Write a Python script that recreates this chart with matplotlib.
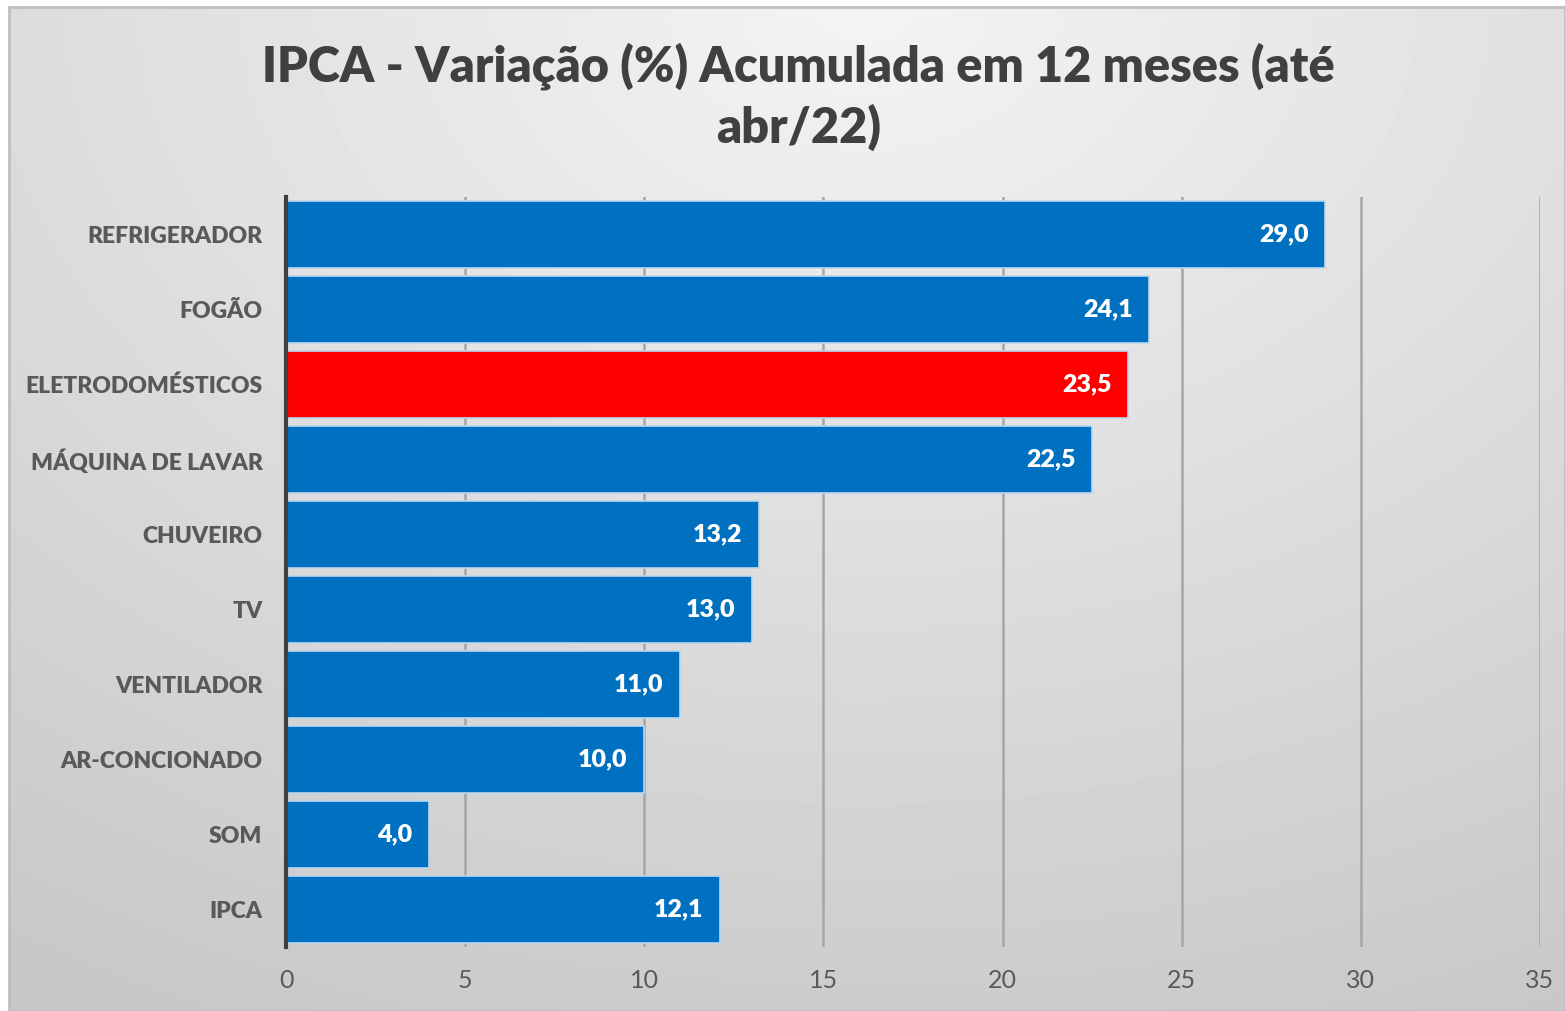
import matplotlib.pyplot as plt
import numpy as np

categories = ['REFRIGERADOR', 'FOGÃO', 'ELETRODOMÉSTICOS', 'MÁQUINA DE LAVAR', 'CHUVEIRO',
              'TV', 'VENTILADOR', 'AR-CONCIONADO', 'SOM', 'IPCA']
values = [29.0, 24.1, 23.5, 22.5, 13.2, 13.0, 11.0, 10.0, 4.0, 12.1]
highlight = 'ELETRODOMÉSTICOS'
xticks = [0, 5, 10, 15, 20, 25, 30, 35]
title = 'IPCA - Variação (%) Acumulada em 12 meses (até\nabr/22)'

plt.rcParams['font.family'] = ['Lato', 'DejaVu Sans']

W, H = 1565, 1011
fig = plt.figure(figsize=(W / 100, H / 100), dpi=100)
fig.patch.set_facecolor('white')

# gradient background panel
bg = fig.add_axes([9 / W, 0, 1 - 9 / W, 1 - 7 / H])
yy, xx = np.mgrid[0:1:300j, 0:1:470j]
d = np.sqrt(((xx - 0.55) / 1.0) ** 2 + ((yy - 0.0) / 1.1) ** 2)
shade = 0.955 - 0.17 * np.clip(d, 0, 1)
bg.imshow(shade, cmap='gray', vmin=0, vmax=1, aspect='auto', extent=[0, 1, 0, 1],
          origin='upper', interpolation='bilinear')
bg.set_xlim(0, 1)
bg.set_ylim(0, 1)
bg.set_xticks([])
bg.set_yticks([])
for s in bg.spines.values():
    s.set_color('#bfbfbf')
    s.set_linewidth(2)

ax = fig.add_axes([286 / W, 1 - 947 / H, (1540 - 286) / W, (947 - 197) / H])
ax.patch.set_alpha(0)
ypos = np.arange(len(categories))
colors = ['#FF0000' if c == highlight else '#0070C0' for c in categories]
bars = ax.barh(ypos, values, height=0.89, color=colors, edgecolor='#bdd7ee',
               linewidth=1.2, zorder=3)
ax.set_ylim(len(categories) - 0.5, -0.5)
ax.set_xlim(0, 35)
ax.set_xticks(xticks)
ax.set_xticklabels([str(t) for t in xticks], fontsize=18, color='#595959')
ax.set_yticks(ypos)
ax.set_yticklabels(categories, fontsize=16.5, fontweight='heavy', color='#595959')
ax.tick_params(length=0, pad=17)
ax.tick_params(axis='x', pad=16)
ax.grid(axis='x', color='#a6a6a6', linewidth=1.8, zorder=0)
for s in ['top', 'right', 'bottom']:
    ax.spines[s].set_visible(False)
ax.spines['left'].set_color('#404040')
ax.spines['left'].set_linewidth(3)
ax.spines['left'].set_zorder(4)

for b, v in zip(bars, values):
    ax.annotate(f'{v:.1f}'.replace('.', ','), (v, b.get_y() + b.get_height() / 2),
                xytext=(-12, 0), textcoords='offset points', ha='right', va='center',
                color='white', fontsize=18, fontweight='heavy', zorder=5)

fig.text(0.51, 1 - 97 / H, title, ha='center', va='center', fontsize=35,
         fontweight='heavy', color='#404040', linespacing=1.35)

fig.savefig('out.png', dpi=100)
